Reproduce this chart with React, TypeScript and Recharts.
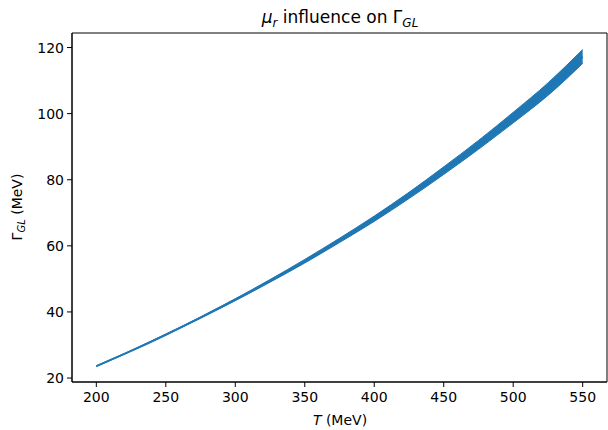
import {
	Area,
	ComposedChart,
	Line,
	ReferenceArea,
	XAxis,
	YAxis,
} from 'recharts';

// temperature grid (MeV)
const temps = [200, 225, 250, 275, 300, 325, 350, 375, 400, 425, 450, 475, 500, 525, 550];
// Γ_GL central curve and the μ_r band edges (MeV)
const gammaMid = [23.6, 28.2, 33.1, 38.3, 43.7, 49.4, 55.3, 61.6, 68.2, 75.2, 82.8, 90.6, 98.8, 107.4, 117.2];
const gammaLow = [23.5, 28.1, 33.0, 38.1, 43.4, 49.0, 54.8, 61.0, 67.4, 74.3, 81.6, 89.2, 97.2, 105.5, 115.2];
const gammaHigh = [23.7, 28.3, 33.3, 38.5, 44.0, 49.8, 55.9, 62.3, 69.0, 76.2, 83.9, 91.9, 100.4, 109.3, 119.4];

const xTicks = [200, 250, 300, 350, 400, 450, 500, 550];
const yTicks = [20, 40, 60, 80, 100, 120];

const BLUE = '#1f77b4';
const FONT = '"DejaVu Sans", sans-serif';

const W = 608;
const H = 430;

const X_DOMAIN: [number, number] = [182.5, 567.5];
const Y_DOMAIN: [number, number] = [18.8, 124.4];

const rows = temps.map((t, i) => ({
	t,
	mid: gammaMid[i],
	band: [gammaLow[i], gammaHigh[i]],
}));

const tickStyle = {fontSize: 14, fill: '#000', fontFamily: FONT};

export default function App() {
	return (
		<div style={{position: 'absolute', left: 0, top: 0, width: W, height: H, background: '#fff'}}>
			<ComposedChart
				width={W}
				height={H}
				data={rows}
				margin={{top: 33, right: 1, bottom: 0, left: 0}}
			>
				<XAxis
					type="number"
					dataKey="t"
					domain={X_DOMAIN}
					ticks={xTicks}
					allowDataOverflow
					height={48}
					tick={tickStyle}
					tickSize={5}
					tickMargin={5}
					stroke="#000"
				/>
				<YAxis
					type="number"
					domain={Y_DOMAIN}
					ticks={yTicks}
					allowDataOverflow
					width={72}
					tick={tickStyle}
					tickSize={5}
					tickMargin={3}
					stroke="#000"
				/>
				<ReferenceArea
					x1={X_DOMAIN[0]}
					x2={X_DOMAIN[1]}
					y1={Y_DOMAIN[0]}
					y2={Y_DOMAIN[1]}
					fill="none"
					stroke="#000"
					strokeWidth={1}
				/>
				<Area
					type="monotone"
					dataKey="band"
					fill={BLUE}
					fillOpacity={1}
					stroke={BLUE}
					strokeWidth={1}
					isAnimationActive={false}
				/>
				<Line
					type="monotone"
					dataKey="mid"
					stroke={BLUE}
					strokeWidth={2}
					dot={false}
					isAnimationActive={false}
				/>
			</ComposedChart>
			<svg
				width={W}
				height={H}
				style={{position: 'absolute', left: 0, top: 0, pointerEvents: 'none'}}
				fontFamily={FONT}
			>
				<text x={340} y={23} textAnchor="middle" fontSize={17}>
					<tspan fontStyle="italic">μ</tspan>
					<tspan fontStyle="italic" fontSize={12} dy={4}>r</tspan>
					<tspan dy={-4}> influence on Γ</tspan>
					<tspan fontStyle="italic" fontSize={12} dy={4}>GL</tspan>
				</text>
				<text x={340} y={425} textAnchor="middle" fontSize={14}>
					<tspan fontStyle="italic">T</tspan> (MeV)
				</text>
				<text
					transform="translate(22 207) rotate(-90)"
					textAnchor="middle"
					fontSize={14}
				>
					Γ<tspan fontStyle="italic" fontSize={10} dy={3}>GL</tspan>
					<tspan dy={-3}> (MeV)</tspan>
				</text>
			</svg>
		</div>
	);
}
